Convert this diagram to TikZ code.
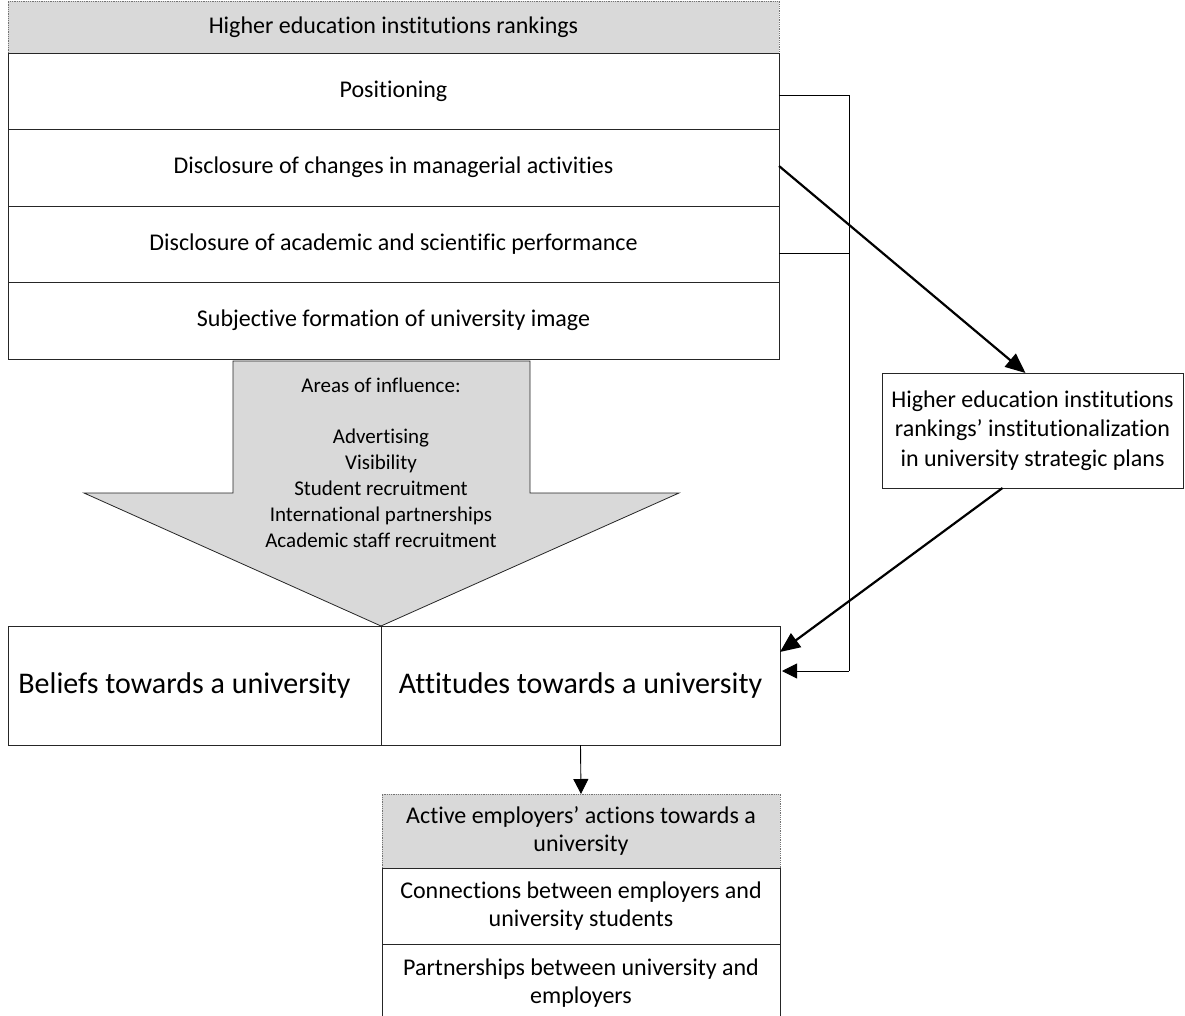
\documentclass[tikz,border=0pt]{standalone}
\usepackage{fontspec}
\setmainfont{Carlito}[Ligatures={NoCommon}]
\usetikzlibrary{arrows.meta}
\definecolor{hdrgray}{HTML}{D9D9D9}
\begin{document}
\begin{tikzpicture}[x=1pt,y=-1pt,
  box/.style={draw=black!85, line width=0.8pt, fill=white, inner sep=0pt, outer sep=0pt, align=center},
  hdr/.style={draw=black!55, densely dotted, line width=0.8pt, fill=hdrgray, inner sep=0pt, outer sep=0pt, align=center},
  rowfont/.style={font=\fontsize{24}{29}\selectfont},
  bigfont/.style={font=\fontsize{30}{36}\selectfont},
  thinarrow/.style={line width=0.9pt, draw=black, -{Triangle[length=15pt,width=15pt]}},
  thickarrow/.style={line width=2.2pt, draw=black, -{Triangle[length=20pt,width=17pt]}},
  bracket/.style={line width=0.9pt, draw=black}
]
\useasboundingbox (0,0) rectangle (1185,1016);
\clip (0,0) rectangle (1185,1016);

% top block
\node[hdr, rowfont, minimum width=771pt, minimum height=52pt] (top) at (393.5,27) {Higher education institutions rankings};
\node[box, rowfont, minimum width=771pt, minimum height=76pt] (pos) at (393.5,91) {Positioning};
\node[box, rowfont, minimum width=771pt, minimum height=77pt] (mgmt) at (393.5,167.5) {Disclosure of changes in managerial activities};
\node[box, rowfont, minimum width=771pt, minimum height=76pt] (acad) at (393.5,244) {Disclosure of academic and scientific performance};
\node[box, rowfont, minimum width=771pt, minimum height=77pt] (img) at (393.5,320.5) {Subjective formation of university image};

% big arrow
\draw[fill=hdrgray, draw=black!85, line width=0.8pt, line join=miter]
  (233,361) -- (530,361) -- (530,493) -- (679,493) -- (381,626) -- (84,493) -- (233,493) -- cycle;
\node[align=center, inner sep=0pt, font=\fontsize{21}{25.8}\selectfont] (infl) at (381,462.5)
  {Areas of influence:\\[25.8pt]Advertising\\Visibility\\Student recruitment\\International partnerships\\Academic staff recruitment};

% beliefs / attitudes
\node[box, bigfont, minimum width=373pt, minimum height=119pt] (bel) at (194.5,685.5) {Beliefs towards a university\hspace*{20pt}};
\node[box, bigfont, minimum width=399pt, minimum height=119pt] (att) at (580.5,685.5) {Attitudes towards a university};

% institutionalization box
\node[box, font=\fontsize{24}{29.5}\selectfont, minimum width=301pt, minimum height=115pt] (inst) at (1032.5,430.5)
  {Higher education institutions\\rankings’ institutionalization\\in university strategic plans};

% bottom block
\node[hdr, font=\fontsize{24}{28}\selectfont, minimum width=398pt, minimum height=74pt] (act) at (581,831)
  {Active employers’ actions towards a\\university};
\node[box, font=\fontsize{24}{28}\selectfont, minimum width=398pt, minimum height=76pt] (conn) at (581,906)
  {Connections between employers and\\university students};
\node[box, font=\fontsize{24}{28}\selectfont, minimum width=398pt, minimum height=78pt] (part) at (581,983)
  {Partnerships between university and\\employers};

% connectors
\coordinate (br) at (849,671);
\coordinate (posr) at ([yshift=-4pt]pos.east);
\coordinate (acr) at ([yshift=-9pt]acad.east);
\draw[bracket] (posr) -| (br);
\draw[bracket] (acr) -- (br |- acr);
\draw[thinarrow] (br) -- ([xshift=2pt]att.east |- br);
\draw[thickarrow] ([yshift=1.5pt]mgmt.east) -- ([xshift=-7pt]inst.north);
\draw[thickarrow] ([xshift=-30pt]inst.south) -- ([yshift=33.5pt]att.east);
\draw[thinarrow] (att.south) -- (act.north);
\end{tikzpicture}
\end{document}
